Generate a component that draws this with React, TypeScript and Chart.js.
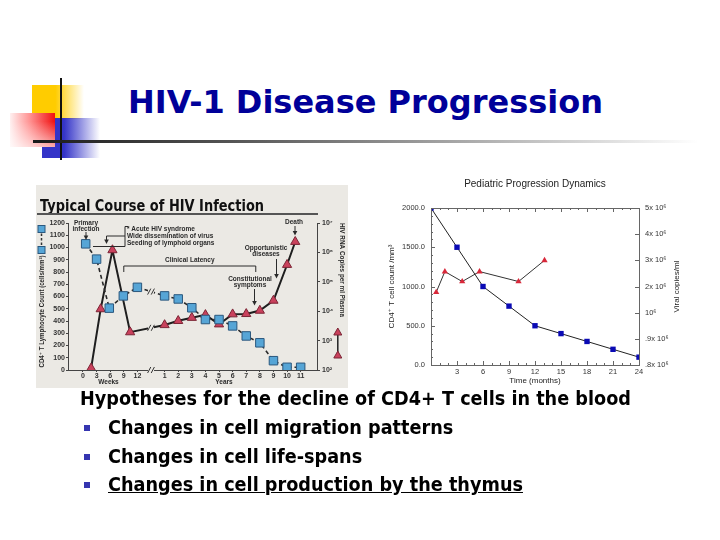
import React, { useEffect, useRef } from "react";
import { Chart, registerables } from "chart.js";

Chart.register(...registerables);

// ---------- Left chart: Typical Course of HIV Infection ----------
const weekTicks = [0, 3, 6, 9, 12];
const yearTicks = [1, 2, 3, 4, 5, 6, 7, 8, 9, 10, 11];
const cd4AxisTicks = [0, 100, 200, 300, 400, 500, 600, 700, 800, 900, 1000, 1100, 1200];
const rnaAxisTicks = [1e2, 1e3, 1e4, 1e5, 1e6, 1e7];

const cd4Weeks = [0.6, 3, 5.8, 8.9, 12];
const cd4WeekCounts = [1030, 905, 505, 605, 675];
const cd4Years = [1, 2, 3, 4, 5, 6, 7, 8, 9, 10, 11];
const cd4YearCounts = [605, 580, 508, 412, 412, 360, 278, 222, 76, 22, 22];

const rnaWeeks = [1.8, 3.9, 6.5, 10.4];
const rnaWeekCopies = [115, 11800, 1200000, 1940];
const rnaYears = [1, 2, 3, 4, 5, 6, 7, 8, 9, 10, 10.6];
const rnaYearCopies = [3400, 4700, 6000, 7500, 3600, 7900, 8100, 10500, 23000, 380000, 2300000];

// ---------- Right chart: Pediatric Progression Dynamics ----------
const pedMonthTicks = [3, 6, 9, 12, 15, 18, 21, 24];
const pedCd4Ticks = [0, 500, 1000, 1500, 2000];
const pedMonths = [0, 3, 6, 9, 12, 15, 18, 21, 24];
const pedCd4 = [2000, 1500, 1000, 750, 500, 400, 300, 200, 100];
const viralAxisLabels = [".8x 10⁶", ".9x 10⁶", "10⁶", "2x 10⁶", "3x 10⁶", "4x 10⁶", "5x 10⁶"];
const pedViralMonths = [0.6, 1.6, 3.6, 5.6, 10.1, 13.1];
const pedViralLevel = [2.78, 3.57, 3.19, 3.57, 3.19, 4.0]; // position on the viral-copies axis

const SANS = '"Liberation Sans", "DejaVu Sans", Arial, sans-serif';
const SUP = ["⁰", "¹", "²", "³", "⁴", "⁵", "⁶", "⁷", "⁸", "⁹"];

// time axis of the left chart: weeks section, a break, then years section
const weekPos = (w: number) => w / 3;
const yearPos = (y: number) => 5 + y;

const xTickPositions = [...weekTicks.map(weekPos), ...yearTicks.map(yearPos)];
const xTickLabels = [...weekTicks, ...yearTicks].map(String);

const cd4Points = [
  ...cd4Weeks.map((w, i) => ({ x: weekPos(w), y: cd4WeekCounts[i] })),
  ...cd4Years.map((yr, i) => ({ x: yearPos(yr), y: cd4YearCounts[i] })),
];
const rnaPoints = [
  ...rnaWeeks.map((w, i) => ({ x: weekPos(w), y: rnaWeekCopies[i] })),
  ...rnaYears.map((yr, i) => ({ x: yearPos(yr), y: rnaYearCopies[i] })),
];

const L_OX = 36;
const L_OY = 185;
const L_BG = "#ebe9e4";

function arrowDown(ctx: CanvasRenderingContext2D, x: number, y1: number, y2: number) {
  ctx.beginPath();
  ctx.moveTo(x, y1);
  ctx.lineTo(x, y2 - 3);
  ctx.stroke();
  ctx.beginPath();
  ctx.moveTo(x - 2.3, y2 - 4.5);
  ctx.lineTo(x + 2.3, y2 - 4.5);
  ctx.lineTo(x, y2);
  ctx.closePath();
  ctx.fill();
}

function breakMark(ctx: CanvasRenderingContext2D, x: number, y: number) {
  ctx.save();
  ctx.fillStyle = L_BG;
  ctx.fillRect(x - 3, y - 2, 6, 4);
  ctx.strokeStyle = "#333";
  ctx.lineWidth = 1;
  for (const dx of [-1.8, 1.8]) {
    ctx.beginPath();
    ctx.moveTo(x + dx - 1.6, y + 3);
    ctx.lineTo(x + dx + 1.6, y - 3);
    ctx.stroke();
  }
  ctx.restore();
}

function interpY(meta: any, x: number) {
  const pts = meta.data;
  for (let i = 0; i < pts.length - 1; i++) {
    if (pts[i].x <= x && pts[i + 1].x >= x) {
      const t = (x - pts[i].x) / (pts[i + 1].x - pts[i].x);
      return pts[i].y + t * (pts[i + 1].y - pts[i].y);
    }
  }
  return pts[0].y;
}

const leftDecor = {
  id: "leftDecor",
  afterDraw(chart: any) {
    const ctx: CanvasRenderingContext2D = chart.ctx;
    const xs = chart.scales.x;
    const P = (x: number, y: number): [number, number] => [x - L_OX, y - L_OY];
    ctx.save();
    // title
    ctx.fillStyle = "#111";
    ctx.font = `bold 16px "DejaVu Sans", ${SANS}`;
    ctx.textAlign = "left";
    ctx.textBaseline = "alphabetic";
    ctx.fillText("Typical Course of HIV Infection", ...P(40, 211), 224);
    ctx.strokeStyle = "#555";
    ctx.lineWidth = 2;
    ctx.beginPath();
    ctx.moveTo(...P(37, 214));
    ctx.lineTo(...P(318, 214));
    ctx.stroke();

    // annotations
    ctx.fillStyle = "#2a2a2a";
    ctx.strokeStyle = "#2a2a2a";
    ctx.lineWidth = 1;
    ctx.font = `bold 6.5px ${SANS}`;
    ctx.textBaseline = "middle";
    ctx.textAlign = "center";
    ctx.fillText("Primary", ...P(86, 223));
    ctx.fillText("infection", ...P(86, 229));
    arrowDown(ctx, 86 - L_OX, 232 - L_OY, 240 - L_OY);

    ctx.textAlign = "left";
    ctx.fillText("* Acute HIV syndrome", ...P(127, 229.5));
    ctx.fillText("Wide dissemination of virus", ...P(127, 236.5));
    ctx.fillText("Seeding of lymphoid organs", ...P(127, 243.5));
    ctx.beginPath();
    ctx.moveTo(...P(128, 226.5));
    ctx.lineTo(...P(125, 226.5));
    ctx.lineTo(...P(125, 246.5));
    ctx.lineTo(...P(93, 246.5));
    ctx.moveTo(...P(125, 236));
    ctx.lineTo(...P(106.5, 236));
    ctx.stroke();
    arrowDown(ctx, 106.5 - L_OX, 236 - L_OY, 244 - L_OY);

    // clinical latency bracket
    const cl1 = xs.getPixelForValue(weekPos(9));
    const cl2 = xs.getPixelForValue(yearPos(7.7));
    ctx.beginPath();
    ctx.moveTo(cl1, 272 - L_OY);
    ctx.lineTo(cl1, 266 - L_OY);
    ctx.lineTo(cl2, 266 - L_OY);
    ctx.lineTo(cl2, 272 - L_OY);
    ctx.stroke();
    ctx.textAlign = "center";
    ctx.fillText("Clinical Latency", (cl1 + cl2) / 2, 260.5 - L_OY);

    ctx.fillText("Opportunistic", ...P(266, 248.5));
    ctx.fillText("diseases", ...P(266, 254.5));
    arrowDown(ctx, 276.5 - L_OX, 259 - L_OY, 278.5 - L_OY);

    ctx.fillText("Constitutional", ...P(250, 279));
    ctx.fillText("symptoms", ...P(250, 285));
    arrowDown(ctx, 254.5 - L_OX, 289 - L_OY, 305.5 - L_OY);

    ctx.fillText("Death", ...P(294, 222.5));
    arrowDown(ctx, 295 - L_OX, 226 - L_OY, 235.5 - L_OY);

    // axis titles
    ctx.save();
    ctx.translate(...P(42.5, 311.5));
    ctx.rotate(-Math.PI / 2);
    ctx.fillText("CD4⁺ T Lymphocyte Count (cells/mm³)", 0, 0, 112);
    ctx.restore();
    ctx.save();
    ctx.translate(...P(342, 270));
    ctx.rotate(Math.PI / 2);
    ctx.fillText("HIV RNA Copies per ml Plasma", 0, 0, 94);
    ctx.restore();
    ctx.fillText("Weeks", ...P(108.5, 382));
    ctx.fillText("Years", ...P(224, 382));

    // legend icons
    ctx.strokeStyle = "#333";
    ctx.lineWidth = 1.5;
    ctx.setLineDash([2.5, 2]);
    ctx.beginPath();
    ctx.moveTo(...P(41.5, 229));
    ctx.lineTo(...P(41.5, 250));
    ctx.stroke();
    ctx.setLineDash([]);
    ctx.fillStyle = "#56a5d6";
    ctx.strokeStyle = "#2b587e";
    ctx.lineWidth = 1;
    for (const yy of [229, 250]) {
      const [a, b] = P(41.5, yy);
      ctx.fillRect(a - 3.5, b - 3.5, 7, 7);
      ctx.strokeRect(a - 3.5, b - 3.5, 7, 7);
    }
    ctx.strokeStyle = "#222";
    ctx.lineWidth = 1.5;
    ctx.beginPath();
    ctx.moveTo(...P(337.8, 332));
    ctx.lineTo(...P(337.8, 355));
    ctx.stroke();
    ctx.fillStyle = "#c9415c";
    ctx.strokeStyle = "#7b2535";
    ctx.lineWidth = 1;
    for (const yy of [332, 355]) {
      const [a, b] = P(337.8, yy);
      ctx.beginPath();
      ctx.moveTo(a, b - 4);
      ctx.lineTo(a + 4, b + 3);
      ctx.lineTo(a - 4, b + 3);
      ctx.closePath();
      ctx.fill();
      ctx.stroke();
    }

    // axis break marks
    const bx = xs.getPixelForValue(5);
    breakMark(ctx, bx, chart.chartArea.bottom);
    breakMark(ctx, bx, interpY(chart.getDatasetMeta(0), bx));
    breakMark(ctx, bx, interpY(chart.getDatasetMeta(1), bx));
    ctx.restore();
  },
};

function LeftChart() {
  const ref = useRef<HTMLCanvasElement>(null);
  useEffect(() => {
    const tickFont = { family: SANS, size: 7, weight: "bold" as const };
    const chart = new Chart(ref.current!, {
      type: "scatter",
      data: {
        datasets: [
          {
            label: "CD4",
            data: cd4Points,
            yAxisID: "y",
            showLine: true,
            borderColor: "#2a2a2a",
            borderDash: [4, 3],
            borderWidth: 1.6,
            pointStyle: "rect",
            pointRadius: 6,
            pointBackgroundColor: "#56a5d6",
            pointBorderColor: "#2b587e",
            pointBorderWidth: 1,
          },
          {
            label: "RNA",
            data: rnaPoints,
            yAxisID: "y1",
            showLine: true,
            borderColor: "#1e1e1e",
            borderWidth: 2,
            pointStyle: "triangle",
            pointRadius: 5.3,
            pointBackgroundColor: "#c9415c",
            pointBorderColor: "#7b2535",
            pointBorderWidth: 1,
          },
        ],
      },
      options: {
        responsive: false,
        animation: false,
        layout: { padding: { top: 38, left: 0, right: 0, bottom: 0 } },
        plugins: { legend: { display: false }, tooltip: { enabled: false }, title: { display: false } },
        scales: {
          x: {
            type: "linear",
            min: -1.1,
            max: 17.2,
            afterBuildTicks: (s: any) => {
              s.ticks = xTickPositions.map((v) => ({ value: v }));
            },
            afterFit: (s: any) => {
              s.height = 18;
            },
            ticks: {
              autoSkip: false,
              maxRotation: 0,
              padding: 0,
              color: "#333",
              font: tickFont,
              callback: (_v: any, i: number) => xTickLabels[i],
            },
            grid: { display: true, drawOnChartArea: false, tickLength: 2, color: "#444" },
            border: { display: true, color: "#444", width: 1 },
          },
          y: {
            type: "linear",
            position: "left",
            min: 0,
            max: 1200,
            afterBuildTicks: (s: any) => {
              s.ticks = cd4AxisTicks.map((v) => ({ value: v }));
            },
            afterFit: (s: any) => {
              s.width = 32;
            },
            ticks: { padding: 1, color: "#333", font: tickFont, callback: (v: any) => String(v) },
            grid: { display: true, drawOnChartArea: false, tickLength: 2, color: "#444" },
            border: { display: true, color: "#444", width: 1 },
          },
          y1: {
            type: "logarithmic",
            position: "right",
            min: 100,
            max: 1e7,
            afterBuildTicks: (s: any) => {
              s.ticks = rnaAxisTicks.map((v) => ({ value: v }));
            },
            afterFit: (s: any) => {
              s.width = 31;
            },
            ticks: {
              padding: 2,
              color: "#333",
              font: tickFont,
              callback: (v: any) => "10" + SUP[Math.round(Math.log10(Number(v)))],
            },
            grid: { display: true, drawOnChartArea: false, tickLength: 3, color: "#444" },
            border: { display: true, color: "#444", width: 1 },
          },
        },
      },
      plugins: [leftDecor],
    });
    return () => chart.destroy();
  }, []);
  return (
    <canvas
      ref={ref}
      width={312}
      height={203}
      style={{ position: "absolute", left: L_OX, top: L_OY, width: 312, height: 203, background: L_BG }}
    />
  );
}

// ---------- right chart ----------
const R_OX = 388;
const R_OY = 170;

const rightDecor = {
  id: "rightDecor",
  afterDraw(chart: any) {
    const ctx: CanvasRenderingContext2D = chart.ctx;
    const a = chart.chartArea;
    const xs = chart.scales.x;
    const ys = chart.scales.y;
    const ys1 = chart.scales.y1;
    ctx.save();
    ctx.strokeStyle = "#666";
    ctx.lineWidth = 1;
    ctx.strokeRect(Math.round(a.left) + 0.5, Math.round(a.top) + 0.5, Math.round(a.right - a.left), Math.round(a.bottom - a.top));
    ctx.beginPath();
    for (let m = 1; m < 24; m++) {
      const px = Math.round(xs.getPixelForValue(m)) + 0.5;
      const len = m % 3 === 0 ? 4 : 2;
      ctx.moveTo(px, a.bottom);
      ctx.lineTo(px, a.bottom - len);
      ctx.moveTo(px, a.top);
      ctx.lineTo(px, a.top + len);
    }
    for (let v = 100; v < 2000; v += 100) {
      const py = Math.round(ys.getPixelForValue(v)) + 0.5;
      const len = v % 500 === 0 ? 4 : 2;
      ctx.moveTo(a.left, py);
      ctx.lineTo(a.left + len, py);
    }
    for (let k = 1; k < viralAxisLabels.length - 1; k++) {
      const py = Math.round(ys1.getPixelForValue(k)) + 0.5;
      ctx.moveTo(a.right, py);
      ctx.lineTo(a.right - 4, py);
    }
    ctx.stroke();

    ctx.fillStyle = "#222";
    ctx.textAlign = "center";
    ctx.textBaseline = "middle";
    ctx.font = `10px ${SANS}`;
    ctx.fillText("Pediatric Progression Dynamics", (a.left + a.right) / 2, 184 - R_OY, 160);
    ctx.font = `8px ${SANS}`;
    ctx.fillText("Time (months)", (a.left + a.right) / 2, 381 - R_OY);
    ctx.save();
    ctx.translate(392 - R_OX, 286.5 - R_OY);
    ctx.rotate(-Math.PI / 2);
    ctx.fillText("CD4⁺ T cell count /mm³", 0, 0);
    ctx.restore();
    ctx.save();
    ctx.translate(676.5 - R_OX, 286.5 - R_OY);
    ctx.rotate(-Math.PI / 2);
    ctx.fillText("Viral copies/ml", 0, 0);
    ctx.restore();
    ctx.restore();
  },
};

function RightChart() {
  const ref = useRef<HTMLCanvasElement>(null);
  useEffect(() => {
    const tickFont = { family: SANS, size: 7.5 };
    const noGrid = { display: false, drawTicks: false, tickLength: 0 };
    const chart = new Chart(ref.current!, {
      type: "scatter",
      data: {
        datasets: [
          {
            label: "CD4",
            data: pedMonths.map((m, i) => ({ x: m, y: pedCd4[i] })),
            yAxisID: "y",
            showLine: true,
            borderColor: "#222",
            borderWidth: 1,
            pointStyle: "rect",
            pointRadius: 3.8,
            pointBackgroundColor: "#0a0ab4",
            pointBorderColor: "#0a0ab4",
            pointBorderWidth: 0,
          },
          {
            label: "Viral",
            data: pedViralMonths.map((m, i) => ({ x: m, y: pedViralLevel[i] })),
            yAxisID: "y1",
            showLine: true,
            borderColor: "#333",
            borderWidth: 1,
            pointStyle: "triangle",
            pointRadius: 3.6,
            pointBackgroundColor: "#d8283a",
            pointBorderColor: "#d8283a",
            pointBorderWidth: 0,
          },
        ],
      },
      options: {
        responsive: false,
        animation: false,
        layout: { padding: { top: 38, left: 0, right: 0, bottom: 0 } },
        plugins: { legend: { display: false }, tooltip: { enabled: false }, title: { display: false } },
        scales: {
          x: {
            type: "linear",
            min: 0,
            max: 24,
            afterBuildTicks: (s: any) => {
              s.ticks = pedMonthTicks.map((v) => ({ value: v }));
            },
            afterFit: (s: any) => {
              s.height = 25;
            },
            ticks: { autoSkip: false, maxRotation: 0, padding: 2, color: "#333", font: tickFont },
            grid: noGrid,
            border: { display: false },
          },
          y: {
            type: "linear",
            position: "left",
            min: 0,
            max: 2000,
            afterBuildTicks: (s: any) => {
              s.ticks = pedCd4Ticks.map((v) => ({ value: v }));
            },
            afterFit: (s: any) => {
              s.width = 43;
            },
            ticks: { padding: 6, color: "#333", font: tickFont, callback: (v: any) => Number(v).toFixed(1) },
            grid: noGrid,
            border: { display: false },
          },
          y1: {
            type: "linear",
            position: "right",
            min: 0,
            max: viralAxisLabels.length - 1,
            afterBuildTicks: (s: any) => {
              s.ticks = viralAxisLabels.map((_l, i) => ({ value: i }));
            },
            afterFit: (s: any) => {
              s.width = 41;
            },
            ticks: { padding: 6, color: "#333", font: tickFont, callback: (_v: any, i: number) => viralAxisLabels[i] },
            grid: noGrid,
            border: { display: false },
          },
        },
      },
      plugins: [rightDecor],
    });
    return () => chart.destroy();
  }, []);
  return (
    <canvas
      ref={ref}
      width={292}
      height={220}
      style={{ position: "absolute", left: R_OX, top: R_OY, width: 292, height: 220, background: "#fff" }}
    />
  );
}

const bulletLines = [
  "Changes in cell migration patterns",
  "Changes in cell life-spans",
  "Changes in cell production by the thymus",
];

export default function App() {
  const textStyle: React.CSSProperties = {
    position: "absolute",
    fontFamily: '"DejaVu Sans", Verdana, sans-serif',
    fontWeight: "bold",
    fontSize: 19,
    lineHeight: "28px",
    whiteSpace: "nowrap",
    color: "#000",
    transform: "scaleX(0.93)",
    transformOrigin: "0 50%",
  };
  return (
    <div style={{ position: "fixed", left: 0, top: 0, width: 720, height: 540, background: "#fff", overflow: "hidden" }}>
      {/* decorative squares */}
      <div
        style={{
          position: "absolute",
          left: 32,
          top: 85,
          width: 52,
          height: 34,
          background: "linear-gradient(to right, #ffcc00 0%, #ffcc00 45%, rgba(255,210,40,0) 100%)",
        }}
      />
      <div
        style={{
          position: "absolute",
          left: 42,
          top: 118,
          width: 58,
          height: 40,
          background: "linear-gradient(to right, #3434c8 0%, #3434c8 38%, rgba(60,60,210,0) 100%)",
        }}
      />
      <div
        style={{
          position: "absolute",
          left: 10,
          top: 113,
          width: 45,
          height: 34,
          background:
            "linear-gradient(to bottom, rgba(255,255,255,0) 25%, rgba(255,255,255,0.65) 100%), linear-gradient(to left, #f01010 0%, #ff9090 55%, #fff0f0 100%)",
        }}
      />
      <div style={{ position: "absolute", left: 60, top: 78, width: 2, height: 82, background: "#111" }} />
      <div
        style={{
          position: "absolute",
          left: 33,
          top: 140,
          width: 665,
          height: 3,
          background: "linear-gradient(to right, #1a1a1a 0%, #555 30%, #aaa 65%, #fff 100%)",
        }}
      />
      <div
        style={{
          position: "absolute",
          left: 128,
          top: 83,
          fontFamily: '"DejaVu Sans", Verdana, sans-serif',
          fontWeight: "bold",
          fontSize: 32,
          lineHeight: "38px",
          color: "#000099",
          whiteSpace: "nowrap",
        }}
      >
        HIV-1 Disease Progression
      </div>

      <LeftChart />
      <RightChart />

      <div style={{ ...textStyle, left: 80, top: 384 }}>Hypotheses for the decline of CD4+ T cells in the blood</div>
      {bulletLines.map((t, i) => (
        <React.Fragment key={t}>
          <div
            style={{ position: "absolute", left: 84, top: 425 + i * 28.7, width: 6, height: 6, background: "#3535b0" }}
          />
          <div
            style={{
              ...textStyle,
              left: 108,
              top: 413 + i * 28.7,
              textDecoration: i === 2 ? "underline" : "none",
            }}
          >
            {t}
          </div>
        </React.Fragment>
      ))}
    </div>
  );
}
